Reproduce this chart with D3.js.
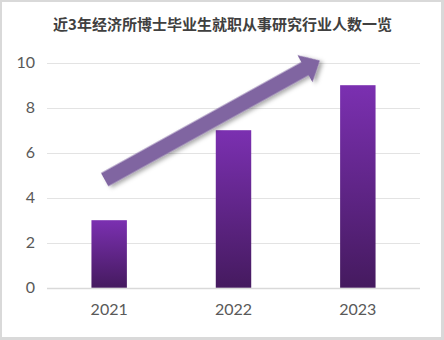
<!DOCTYPE html>
<html>
<head>
<meta charset="utf-8">
<script src="https://cdn.jsdelivr.net/npm/d3@7"></script>
<style>
  html, body { margin: 0; padding: 0; background: #fff; }
  svg { display: block; }
</style>
</head>
<body>
<svg id="chart" width="444" height="340"></svg>
<script>
// Graduates entering research jobs, by year
const years = ["2021", "2022", "2023"];
const counts = [3, 7, 9];
const yTicks = [0, 2, 4, 6, 8, 10];
const title = "近3年经济所博士毕业生就职从事研究行业人数一览";

const W = 444, H = 340;
const plot = { left: 47, right: 420, top: 62.7, bottom: 287.7 };
const font = "Lato, 'Open Sans', 'Liberation Sans', sans-serif";

const svg = d3.select("#chart");

// frame
svg.append("rect").attr("width", W).attr("height", H).attr("fill", "#d9d9d9");
svg.append("rect").attr("x", 2).attr("y", 2).attr("width", 439).attr("height", 335).attr("fill", "#fff");

const defs = svg.append("defs");
const grad = defs.append("linearGradient")
  .attr("id", "barGrad").attr("x1", 0).attr("y1", 0).attr("x2", 0).attr("y2", 1);
grad.append("stop").attr("offset", "0%").attr("stop-color", "#7b30b1");
grad.append("stop").attr("offset", "100%").attr("stop-color", "#451a5f");

const shadow = defs.append("filter").attr("id", "shadow")
  .attr("x", "-20%").attr("y", "-20%").attr("width", "140%").attr("height", "140%");
shadow.append("feDropShadow")
  .attr("dx", 2).attr("dy", 3).attr("stdDeviation", 2)
  .attr("flood-color", "#000").attr("flood-opacity", 0.35);

const x = d3.scaleBand().domain(years).range([plot.left, plot.right]).padding(0);
const y = d3.scaleLinear().domain([0, 10]).range([plot.bottom, plot.top]);
const barW = x.bandwidth() * 0.285;

// title
svg.append("text")
  .attr("x", 222.5).attr("y", 30)
  .attr("text-anchor", "middle")
  .attr("font-family", "'Noto Sans CJK SC', sans-serif")
  .attr("font-weight", "bold")
  .attr("font-size", 15)
  .attr("fill", "#404040")
  .text(title);

// gridlines
svg.append("g").selectAll("line").data(yTicks).join("line")
  .attr("x1", plot.left).attr("x2", plot.right)
  .attr("y1", d => Math.round(y(d)) + 0.5).attr("y2", d => Math.round(y(d)) + 0.5)
  .attr("stroke", d => d === 0 ? "#d9d9d9" : "#e3e3e3")
  .attr("stroke-width", d => d === 0 ? 1.5 : 1.2);

// y axis labels
const yAxis = svg.append("g")
  .attr("transform", `translate(${plot.left},0)`)
  .call(d3.axisLeft(y).tickValues(yTicks).tickSize(0).tickPadding(12));
yAxis.select(".domain").remove();
yAxis.selectAll("text")
  .attr("font-family", font).attr("font-size", 16).attr("fill", "#595959");

// x axis labels
const xAxis = svg.append("g")
  .attr("transform", `translate(0,${plot.bottom})`)
  .call(d3.axisBottom(x).tickSize(0).tickPadding(16));
xAxis.select(".domain").remove();
xAxis.selectAll("text")
  .attr("font-family", font).attr("font-size", 16).attr("fill", "#595959");

// bars
svg.append("g").selectAll("rect").data(years).join("rect")
  .attr("x", (d) => x(d) + x.bandwidth() / 2 - barW / 2)
  .attr("y", (d, i) => y(counts[i]))
  .attr("width", barW)
  .attr("height", (d, i) => y(0) - y(counts[i]))
  .attr("fill", "url(#barGrad)");

// upward trend arrow, anchored to the scales
const tail = [x(years[0]) + x.bandwidth() / 2 - 4.5, y(4.8)];
const tip = [x(years[2]) + x.bandwidth() / 2 - 38, y(10.1)];
const dx = tip[0] - tail[0], dy = tip[1] - tail[1];
const len = Math.hypot(dx, dy);
const ang = Math.atan2(dy, dx) * 180 / Math.PI;
const shaftHalf = 7.6, headHalf = 15.5, headLen = 17;
const arrowPts = [
  [0, -shaftHalf], [len - headLen, -shaftHalf], [len - headLen, -headHalf],
  [len, 0],
  [len - headLen, headHalf], [len - headLen, shaftHalf], [0, shaftHalf]
];
svg.append("path")
  .attr("transform", `translate(${tail[0]},${tail[1]}) rotate(${ang})`)
  .attr("d", d3.line()(arrowPts) + "Z")
  .attr("fill", "#8065a1")
  .attr("filter", "url(#shadow)");
</script>
</body>
</html>
